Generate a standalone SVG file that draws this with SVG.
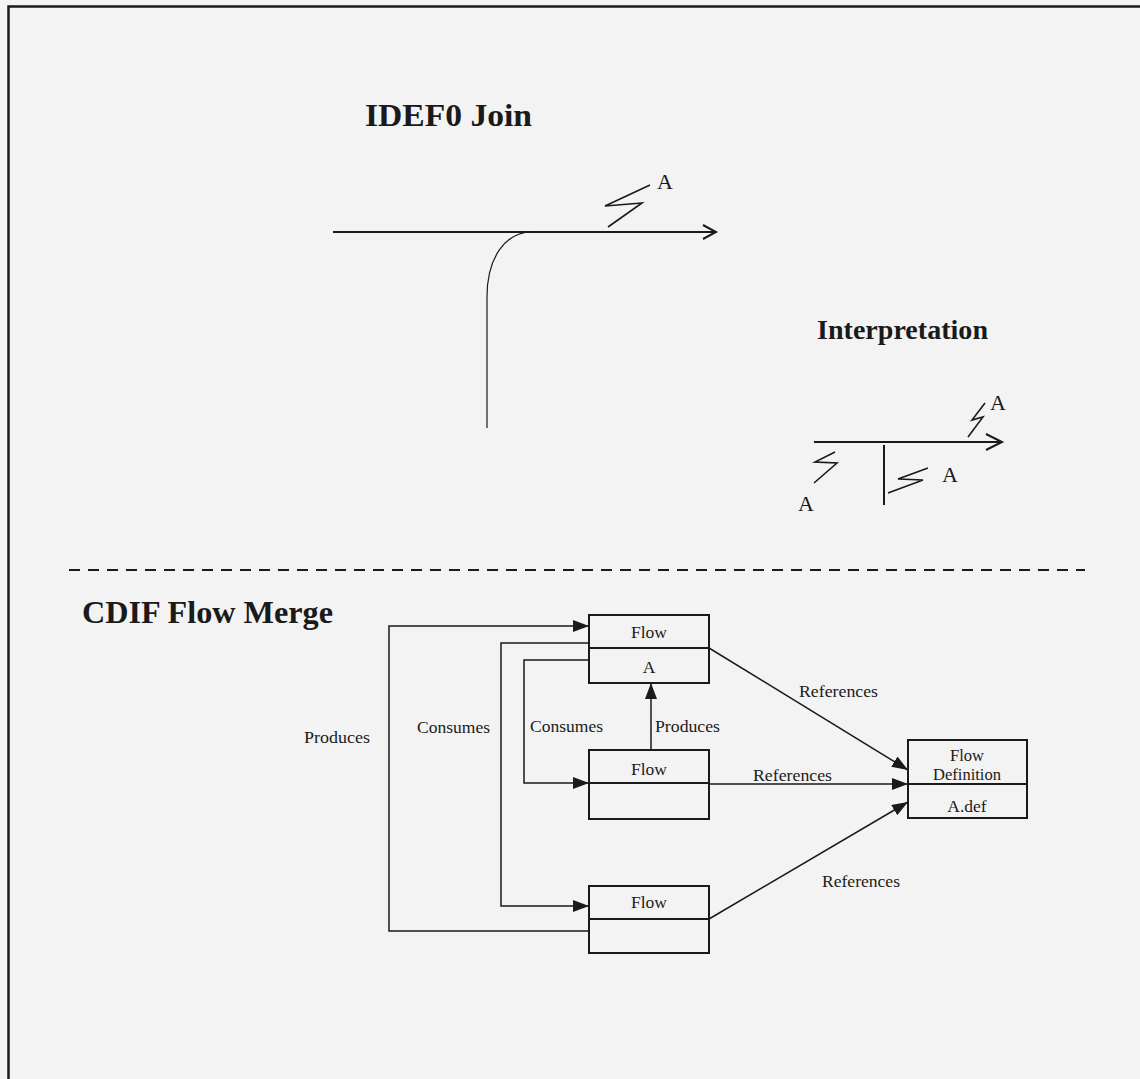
<svg xmlns="http://www.w3.org/2000/svg" width="1140" height="1079" viewBox="0 0 1140 1079">
<style>
.t{font-family:"Liberation Serif","Times New Roman",serif;fill:#1a1a1a}
.h{font-weight:bold}
.s{font-size:17.5px}
.d{font-size:16.5px}
.a{font-size:22px}
.ln{fill:none;stroke:#1a1a1a;stroke-width:1.5}
.box{fill:none;stroke:#1a1a1a;stroke-width:2}
.zz{fill:none;stroke:#1a1a1a;stroke-width:1.6;stroke-linejoin:miter}
</style>
<defs>
<marker id="fa" viewBox="0 0 16 12" refX="16" refY="6" markerWidth="16" markerHeight="12" markerUnits="userSpaceOnUse" orient="auto">
<path d="M0,0 L16,6 L0,12 Z" fill="#1a1a1a"/>
</marker>
</defs>
<rect width="1140" height="1079" fill="#f3f3f3"/>
<path d="M8.5,1079 V6.5 H1140" fill="none" stroke="#1a1a1a" stroke-width="2.5"/>

<g id="idef0-join">
<text class="t h" x="365" y="126" font-size="32" textLength="167" lengthAdjust="spacingAndGlyphs">IDEF0  Join</text>
<path d="M333,232 H716" fill="none" stroke="#1a1a1a" stroke-width="2"/>
<path d="M703,225 L716,232 L703,239" fill="none" stroke="#1a1a1a" stroke-width="2"/>
<path d="M487,428 V297 C487,258 505,232 532,232" fill="none" stroke="#1a1a1a" stroke-width="1.2"/>
<path class="zz" d="M608,227 L642,203 L605,206 L650,185"/>
<text class="t a" x="657" y="189">A</text>
</g>

<g id="interpretation">
<text class="t h" x="817" y="339" font-size="28" textLength="171" lengthAdjust="spacingAndGlyphs">Interpretation</text>
<path d="M814,442 H1002" fill="none" stroke="#1a1a1a" stroke-width="2"/>
<path d="M986,434 L1002,442 L986,450" fill="none" stroke="#1a1a1a" stroke-width="2"/>
<path d="M884,445 V505" fill="none" stroke="#1a1a1a" stroke-width="2"/>
<path class="zz" d="M968,437 L983,417 L972,420 L985,403"/>
<text class="t a" x="990" y="410">A</text>
<path class="zz" d="M835,452 L815,462 L837,463 L814,483"/>
<text class="t a" x="798" y="511">A</text>
<path class="zz" d="M888,493 L923,480 L898,479 L928,468"/>
<text class="t a" x="942" y="482">A</text>
</g>

<path d="M69,570 H1085" fill="none" stroke="#1a1a1a" stroke-width="1.8" stroke-dasharray="11,8"/>

<text class="t h" x="82" y="623" font-size="32" textLength="251" lengthAdjust="spacingAndGlyphs">CDIF Flow Merge</text>

<g id="connectors">
<path class="ln" d="M589,931 H389 V626 H589" marker-end="url(#fa)"/>
<path class="ln" d="M589,643 H501 V906 H589" marker-end="url(#fa)"/>
<path class="ln" d="M589,660 H524 V783 H589" marker-end="url(#fa)"/>
<path class="ln" d="M651,750 V683" marker-end="url(#fa)"/>
<path class="ln" d="M709,648 L908,770" marker-end="url(#fa)"/>
<path class="ln" d="M709,784 H908" marker-end="url(#fa)"/>
<path class="ln" d="M709,919 L908,802" marker-end="url(#fa)"/>
<text class="t s" x="304" y="743" textLength="66" lengthAdjust="spacingAndGlyphs">Produces</text>
<text class="t s" x="417" y="733" textLength="73" lengthAdjust="spacingAndGlyphs">Consumes</text>
<text class="t s" x="530" y="732" textLength="73" lengthAdjust="spacingAndGlyphs">Consumes</text>
<text class="t s" x="655" y="732" textLength="65" lengthAdjust="spacingAndGlyphs">Produces</text>
<text class="t s" x="799" y="697" textLength="79" lengthAdjust="spacingAndGlyphs">References</text>
<text class="t s" x="753" y="781" textLength="79" lengthAdjust="spacingAndGlyphs">References</text>
<text class="t s" x="822" y="887" textLength="78" lengthAdjust="spacingAndGlyphs">References</text>
</g>

<g id="flow-top">
<rect class="box" x="589" y="615" width="120" height="68"/>
<path class="box" d="M589,648 H709"/>
<text class="t s" x="649" y="638" text-anchor="middle">Flow</text>
<text class="t s" x="649" y="673" text-anchor="middle">A</text>
</g>
<g id="flow-middle">
<rect class="box" x="589" y="750" width="120" height="69"/>
<path class="box" d="M589,783 H709"/>
<text class="t s" x="649" y="775" text-anchor="middle">Flow</text>
</g>
<g id="flow-bottom">
<rect class="box" x="589" y="886" width="120" height="67"/>
<path class="box" d="M589,919 H709"/>
<text class="t s" x="649" y="908" text-anchor="middle">Flow</text>
</g>
<g id="flow-definition">
<rect class="box" x="908" y="740" width="119" height="78"/>
<path class="box" d="M908,784 H1027"/>
<text class="t d" x="967" y="761" text-anchor="middle">Flow</text>
<text class="t d" x="967" y="780" text-anchor="middle">Definition</text>
<text class="t s" x="967" y="812" text-anchor="middle">A.def</text>
</g>
</svg>
